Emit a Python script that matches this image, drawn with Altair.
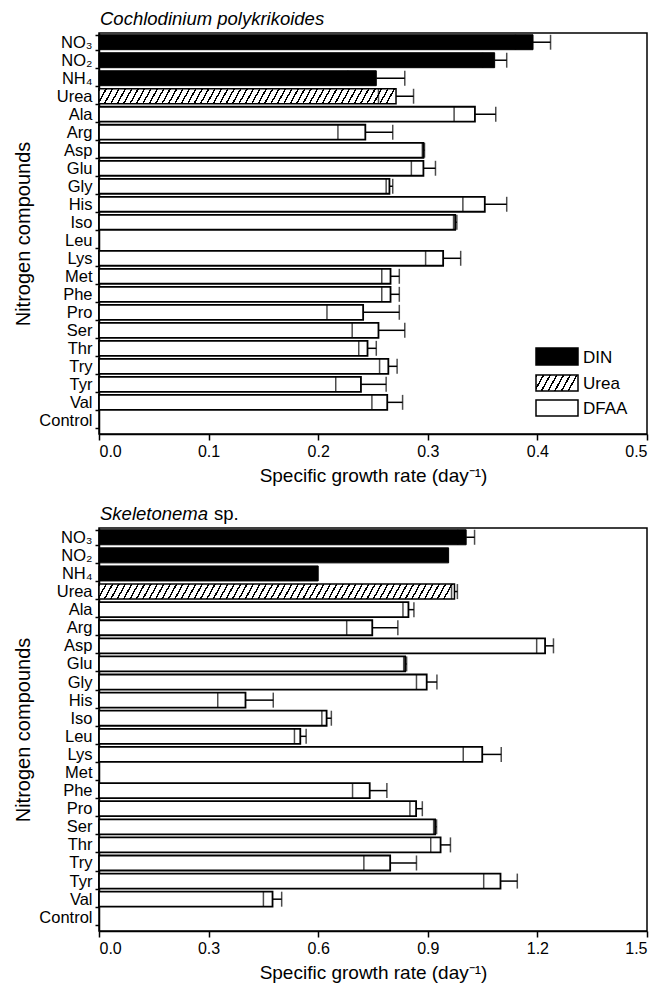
import altair as alt
import pandas as pd

# ---------------- data ----------------
compounds = ["NO₃", "NO₂", "NH₄", "Urea", "Ala", "Arg", "Asp", "Glu", "Gly", "His", "Iso",
             "Leu", "Lys", "Met", "Phe", "Pro", "Ser", "Thr", "Try", "Tyr", "Val", "Control"]
groups = ["DIN", "DIN", "DIN", "Urea"] + ["DFAA"] * 17 + ["Control"]

cp_mean = [0.396, 0.361, 0.253, 0.271, 0.343, 0.243, 0.296, 0.296, 0.265, 0.352, 0.325,
           0.0, 0.314, 0.266, 0.266, 0.241, 0.255, 0.245, 0.264, 0.239, 0.263, 0.0]
cp_sd = [0.016, 0.011, 0.026, 0.016, 0.019, 0.025, 0.001, 0.011, 0.003, 0.020, 0.0015,
         0.0, 0.016, 0.008, 0.008, 0.033, 0.024, 0.008, 0.008, 0.023, 0.014, 0.0]

sk_mean = [1.005, 0.957, 0.600, 0.973, 0.847, 0.748, 1.221, 0.838, 0.897, 0.401, 0.623,
           0.551, 1.049, 0.0, 0.741, 0.868, 0.920, 0.935, 0.797, 1.099, 0.475, 0.0]
sk_sd = [0.023, 0.0, 0.0, 0.008, 0.015, 0.070, 0.023, 0.004, 0.028, 0.076, 0.013,
         0.016, 0.052, 0.0, 0.047, 0.017, 0.004, 0.027, 0.072, 0.046, 0.025, 0.0]

cp_ticks = [0.0, 0.1, 0.2, 0.3, 0.4, 0.5]
sk_ticks = [0.0, 0.3, 0.6, 0.9, 1.2, 1.5]
legend_labels = ["DIN", "Urea", "DFAA"]

# ---------------- style ----------------
FONT = "Liberation Sans"
W = 548
P_IN, P_OUT, ALIGN = 0.17, 0.22, 0.22
N = len(compounds)


def band_height(h):
    step = h / (N - P_IN + 2 * P_OUT)
    return step * (1 - P_IN)


def hatch(wpx, hpx, period=6.4, lw=1.6, k=0.55):
    stops = []
    i = 0
    while i * period <= wpx + k * hpx:
        a = min(i * period / wpx, 1.0)
        b = min((i * period + lw) / wpx, 1.0)
        c = min((i + 1) * period / wpx, 1.0)
        stops += [alt.GradientStop(offset=a, color="black"),
                  alt.GradientStop(offset=b, color="black"),
                  alt.GradientStop(offset=b, color="white"),
                  alt.GradientStop(offset=c, color="white")]
        i += 1
    return alt.LinearGradient(gradient="linear", stops=stops,
                              x1=0, y1=0, x2=1, y2=k * hpx / wpx)


def panel(mean, sd, xmax, ticks, height, title_parts, show_legend):
    df = pd.DataFrame({"compound": compounds, "group": groups, "mean": mean, "sd": sd})
    df["lo"] = df["mean"] - df["sd"]
    df["hi"] = df["mean"] + df["sd"]
    bh = band_height(height)

    xenc = alt.X("mean:Q",
                 scale=alt.Scale(domain=[0, xmax], nice=False, zero=True),
                 axis=alt.Axis(values=ticks, format=".1f",
                               title="Specific growth rate (day⁻¹)",
                               grid=False, tickSize=6, labelPadding=3,
                               titlePadding=7))
    yenc = alt.Y("compound:N", sort=compounds,
                 scale=alt.Scale(domain=compounds, paddingInner=P_IN,
                                 paddingOuter=P_OUT, align=ALIGN),
                 axis=alt.Axis(title="Nitrogen compounds", tickBand="extent",
                               tickSize=4, labelPadding=3, titlePadding=5,
                               grid=False))

    din = alt.Chart(df[(df.group == "DIN") & (df["mean"] > 0)]).mark_bar(
        fill="black", stroke="black", strokeWidth=1).encode(x=xenc, y=yenc)
    urea_row = df[df.group == "Urea"]
    uw = float(urea_row["mean"].iloc[0]) / xmax * W
    urea = alt.Chart(urea_row).mark_bar(
        fill=hatch(uw, bh), stroke="black", strokeWidth=1.5).encode(x=xenc, y=yenc)
    dfaa = alt.Chart(df[(df.group == "DFAA") & (df["mean"] > 0)]).mark_bar(
        fill="white", stroke="black", strokeWidth=1.8).encode(x=xenc, y=yenc)

    err = df[df["sd"] > 0]
    rule = alt.Chart(err).mark_rule(color="black", strokeWidth=1.5).encode(
        x=alt.X("mean:Q"), x2="hi:Q", y=yenc)
    cap_hi = alt.Chart(err).mark_tick(color="black", thickness=1.5, size=bh,
                                      orient="vertical").encode(x=alt.X("hi:Q"), y=yenc)
    cap_lo = alt.Chart(err).mark_tick(color="black", thickness=1.5, size=bh,
                                      orient="vertical").encode(x=alt.X("lo:Q"), y=yenc)

    layers = [din, urea, dfaa, rule, cap_hi, cap_lo]

    one = alt.Data(values=[{"k": 1}])
    for txt, italic, dx in title_parts:
        layers.append(alt.Chart(one).mark_text(
            align="left", baseline="alphabetic", font=FONT, fontSize=18.5,
            fontStyle="italic" if italic else "normal", color="black").encode(
            x=alt.value(1 + dx), y=alt.value(-8), text=alt.value(txt)))

    if show_legend:
        lx, lx2 = 437, 479
        rows = [(315, 332), (342, 358), (367, 383)]
        fills = ["black", hatch(lx2 - lx, 16), "white"]
        for (ya, yb), f, lab in zip(rows, fills, legend_labels):
            layers.append(alt.Chart(one).mark_rect(
                fill=f, stroke="black", strokeWidth=1.5).encode(
                x=alt.value(lx), x2=alt.value(lx2), y=alt.value(ya), y2=alt.value(yb)))
            layers.append(alt.Chart(one).mark_text(
                align="left", baseline="middle", font=FONT, fontSize=17,
                color="black").encode(
                x=alt.value(lx2 + 5), y=alt.value((ya + yb) / 2 + 1), text=alt.value(lab)))

    return alt.layer(*layers).properties(width=W, height=height)


top = panel(cp_mean, cp_sd, 0.5, cp_ticks, 401,
            [("Cochlodinium polykrikoides", True, 0)], True)
bottom = panel(sk_mean, sk_sd, 1.5, sk_ticks, 403,
               [("Skeletonema", True, 0), ("sp.", False, 114)], False)

chart = alt.vconcat(top, bottom, spacing=18).properties(
    padding={"left": 13, "top": 9, "right": 5, "bottom": 5}
).configure_view(
    stroke="black", strokeWidth=1.5
).configure_axis(
    domainColor="black", domainWidth=1.5, tickColor="black", tickWidth=1.5,
    labelColor="black", titleColor="black", labelFont=FONT, titleFont=FONT,
    labelFontSize=16, titleFontSize=19, titleFontWeight="normal"
).configure_axisY(labelFontSize=16.5, titleFontSize=20)

chart.save("out.html", embed_options={"renderer": "svg", "actions": False})
